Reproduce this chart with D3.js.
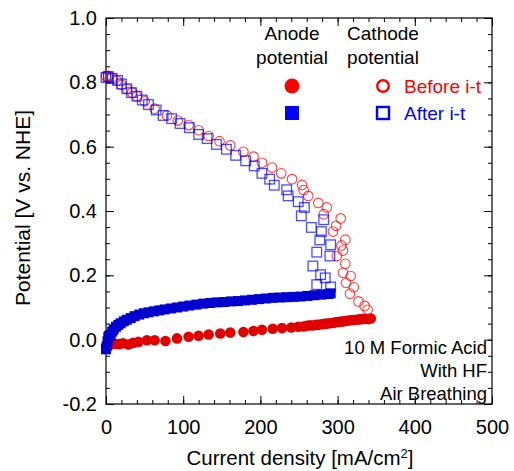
<!DOCTYPE html>
<html>
<head>
<meta charset="utf-8">
<script src="https://cdn.jsdelivr.net/npm/d3@7/dist/d3.min.js"></script>
<style>
  body { margin: 0; background: #fff; }
  text { font-family: Arial, "Liberation Sans", sans-serif; }
</style>
</head>
<body>
<div id="chart"></div>
<script>
// current density [mA/cm2], potential [V vs. NHE]
const anodeBefore = [
  [0,-0.02],[2,-0.017],[6,-0.015],[12,-0.013],[17,-0.014],[22,-0.011],[29,-0.015],[35,-0.01],
  [42,-0.007],[53,-0.002],[63,-0.002],[77,-0.004],[92,0.004],[107,0.009],[120,0.012],[133,0.016],
  [148,0.019],[161,0.022],[178,0.024],[191,0.027],[202,0.031],[216,0.034],[228,0.036],[240,0.038],
  [249,0.04],[256,0.041],[260,0.043],[264,0.045],[268,0.044],[272,0.046],[275,0.046],[279,0.048],
  [283,0.049],[286,0.05],[290,0.051],[294,0.052],[297,0.054],[300,0.055],[304,0.056],[308,0.057],
  [312,0.059],[316,0.06],[320,0.061],[324,0.062],[328,0.063],[332,0.064],[336,0.065],[340,0.064],[343,0.066]
];
const anodeAfter = [
  [0,-0.03],[1,-0.02],[2,-0.005],[3,0.008],[4,0.012],[6,0.015],[8,0.025],[10,0.032],[13,0.04],
  [16,0.046],[19,0.051],[23,0.057],[27,0.062],[32,0.067],[37,0.073],[43,0.078],[49,0.082],[55,0.085],
  [62,0.088],[69,0.091],[76,0.094],[84,0.097],[92,0.1],[100,0.103],[108,0.106],[117,0.109],[126,0.112],
  [135,0.114],[144,0.116],[153,0.117],[162,0.119],[171,0.12],[180,0.122],[189,0.124],[198,0.126],
  [207,0.128],[216,0.13],[225,0.131],[234,0.132],[243,0.133],[252,0.134],[261,0.136],[270,0.138],
  [279,0.14],[288,0.142],[291,0.144]
];
const cathodeBefore = [
  [0,0.82],[3,0.82],[8,0.815],[14,0.805],[20,0.792],[27,0.78],[34,0.768],[40,0.757],[50,0.741],
  [63,0.718],[79,0.697],[93,0.681],[107,0.667],[120,0.651],[133,0.633],[147,0.617],[161,0.604],
  [178,0.584],[191,0.569],[202,0.55],[215,0.535],[227,0.517],[241,0.499],[254,0.481],[256,0.465],
  [262,0.447],[275,0.425],[286,0.411],[282,0.39],[304,0.377],[298,0.354],[294,0.336],[310,0.311],
  [305,0.293],[307,0.277],[299,0.26],[310,0.236],[307,0.208],[317,0.198],[311,0.177],[321,0.163],
  [316,0.143],[327,0.119],[335,0.105],[339,0.093]
];
const cathodeAfter = [
  [0,0.815],[3,0.818],[8,0.812],[15,0.806],[20,0.795],[27,0.78],[33,0.768],[40,0.757],[47,0.745],
  [55,0.731],[65,0.714],[74,0.697],[85,0.687],[96,0.672],[108,0.659],[120,0.638],[131,0.625],
  [143,0.607],[156,0.592],[168,0.573],[181,0.556],[192,0.54],[202,0.517],[212,0.499],[218,0.48],
  [234,0.466],[236,0.447],[249,0.429],[257,0.411],[253,0.385],[282,0.373],[266,0.349],[279,0.336],
  [277,0.31],[291,0.295],[273,0.272],[290,0.26],[268,0.229],[278,0.202],[284,0.192],[273,0.171],[291,0.164]
];
const xTicks = [0, 100, 200, 300, 400, 500];
const yTicks = [-0.2, 0.0, 0.2, 0.4, 0.6, 0.8, 1.0];
const notes = ["10 M Formic Acid", "With HF", "Air Breathing"];

const W = 514, H = 471;
const m = { left: 106, right: 22, top: 18, bottom: 67 };
const pw = W - m.left - m.right, ph = H - m.top - m.bottom;

const svg = d3.select("#chart").append("svg").attr("width", W).attr("height", H);
const g = svg.append("g").attr("transform", `translate(${m.left},${m.top})`);

const x = d3.scaleLinear().domain([0, 500]).range([0, pw]);
const y = d3.scaleLinear().domain([-0.2, 1.0]).range([ph, 0]);

const RED = "#e00000", BLUE = "#0000d0";
const yFmt = d => d3.format(".1f")(d).replace("\u2212", "-");

// minor ticks
const minorX = d3.range(0, 501, 20), minorY = d3.range(-0.2, 1.0001, 0.05);
g.append("g").attr("transform", `translate(0,${ph})`)
  .call(d3.axisBottom(x).tickValues(minorX).tickSize(-4).tickFormat(""));
g.append("g").call(d3.axisTop(x).tickValues(minorX).tickSize(-4).tickFormat(""));
g.append("g").call(d3.axisLeft(y).tickValues(minorY).tickSize(-4).tickFormat(""));
g.append("g").attr("transform", `translate(${pw},0)`)
  .call(d3.axisRight(y).tickValues(minorY).tickSize(-4).tickFormat(""));

// major ticks
g.append("g").attr("class", "xa").attr("transform", `translate(0,${ph})`)
  .call(d3.axisBottom(x).tickValues(xTicks).tickSize(-8).tickPadding(16).tickFormat(d3.format("d")));
g.append("g").call(d3.axisTop(x).tickValues(xTicks).tickSize(-8).tickFormat(""));
g.append("g").attr("class", "ya")
  .call(d3.axisLeft(y).tickValues(yTicks).tickSize(-8).tickPadding(9).tickFormat(yFmt));
g.append("g").attr("transform", `translate(${pw},0)`)
  .call(d3.axisRight(y).tickValues(yTicks).tickSize(-8).tickFormat(""));

g.selectAll(".domain").remove();
g.selectAll(".tick line").attr("stroke", "#000");
g.selectAll(".xa text, .ya text").attr("font-size", 20).attr("fill", "#000")
  .style("font-family", "Arial, 'Liberation Sans', sans-serif");

g.append("rect").attr("width", pw).attr("height", ph)
  .attr("fill", "none").attr("stroke", "#000").attr("stroke-width", 1.2);

// data
g.append("g").selectAll("circle").data(anodeBefore).join("circle")
  .attr("cx", d => x(d[0])).attr("cy", d => y(d[1])).attr("r", 5.3).attr("fill", RED);
g.append("g").selectAll("rect").data(anodeAfter).join("rect")
  .attr("x", d => x(d[0]) - 5).attr("y", d => y(d[1]) - 5).attr("width", 10).attr("height", 10)
  .attr("fill", BLUE);
g.append("g").selectAll("circle").data(cathodeBefore).join("circle")
  .attr("cx", d => x(d[0])).attr("cy", d => y(d[1])).attr("r", 4.8)
  .attr("fill", "none").attr("stroke", "#ff0000").attr("stroke-opacity", 0.75).attr("stroke-width", 1.1);
g.append("g").selectAll("rect").data(cathodeAfter).join("rect")
  .attr("x", d => x(d[0]) - 4.8).attr("y", d => y(d[1]) - 4.8).attr("width", 9.6).attr("height", 9.6)
  .attr("fill", "none").attr("stroke", "#0000ff").attr("stroke-opacity", 0.7).attr("stroke-width", 1.3);

// legend
const lg = svg.append("g").attr("font-size", 19).attr("text-anchor", "middle");
lg.append("text").attr("x", 292).attr("y", 40).text("Anode");
lg.append("text").attr("x", 292).attr("y", 64).text("potential");
lg.append("text").attr("x", 383).attr("y", 40).text("Cathode");
lg.append("text").attr("x", 383).attr("y", 64).text("potential");
lg.append("circle").attr("cx", 292).attr("cy", 86).attr("r", 7.5).attr("fill", "#ff0000");
lg.append("rect").attr("x", 285).attr("y", 106).attr("width", 14).attr("height", 14).attr("fill", "#0000ff");
lg.append("circle").attr("cx", 383).attr("cy", 86).attr("r", 5.8)
  .attr("fill", "none").attr("stroke", "#ff0000").attr("stroke-width", 2.4);
lg.append("rect").attr("x", 377).attr("y", 107).attr("width", 12).attr("height", 12)
  .attr("fill", "none").attr("stroke", "#0000ff").attr("stroke-width", 2.4);
lg.append("text").attr("x", 404).attr("y", 93).attr("text-anchor", "start").attr("fill", "#ff0000").text("Before i-t");
lg.append("text").attr("x", 404).attr("y", 120).attr("text-anchor", "start").attr("fill", "#0000ff").text("After i-t");

// annotation
svg.append("g").attr("font-size", 18.5).attr("text-anchor", "end")
  .selectAll("text").data(notes).join("text")
  .attr("x", 487).attr("y", (d, i) => 354 + i * 23).text(d => d);

// axis titles
svg.append("text").attr("x", 300).attr("y", 465).attr("text-anchor", "middle").attr("font-size", 20.5)
  .html('Current density [mA/cm<tspan baseline-shift="super" font-size="13">2</tspan>]');
svg.append("text").attr("transform", "translate(30,208) rotate(-90)")
  .attr("text-anchor", "middle").attr("font-size", 21).text("Potential [V vs. NHE]");
</script>
</body>
</html>
